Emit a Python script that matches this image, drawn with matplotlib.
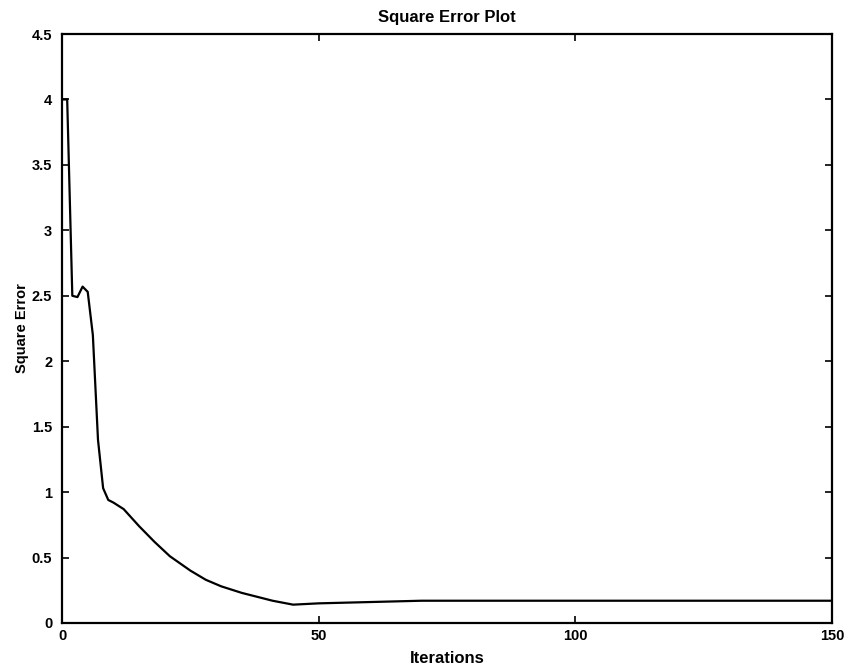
import matplotlib
matplotlib.use("Agg")
import matplotlib.pyplot as plt

# 反復回数と二乗誤差
iterations = [0, 1, 2, 3, 4, 5, 6, 7, 8, 9, 10, 12, 15, 18, 21, 25, 28, 31,
              35, 38, 41, 45, 50, 60, 70, 100, 150]
sq_error = [4.0, 4.0, 2.50, 2.49, 2.57, 2.53, 2.20, 1.40, 1.03, 0.94, 0.92,
            0.87, 0.74, 0.62, 0.51, 0.40, 0.33, 0.28, 0.23, 0.20, 0.17, 0.14,
            0.15, 0.16, 0.17, 0.17, 0.17]

x_ticks = [0, 50, 100, 150]
y_ticks = [0, 0.5, 1, 1.5, 2, 2.5, 3, 3.5, 4, 4.5]
y_tick_labels = ["0", "0.5", "1", "1.5", "2", "2.5", "3", "3.5", "4", "4.5"]

plt.rcParams['font.family'] = ['Liberation Sans', 'DejaVu Sans']
plt.rcParams['font.weight'] = 'bold'

fig = plt.figure(figsize=(8.5, 6.67), dpi=100)
ax = fig.add_axes([0.073, 0.066, 0.906, 0.883])

ax.plot(iterations, sq_error, color='black', linewidth=1.6)

ax.set_xlim(0, 150)
ax.set_ylim(0, 4.5)
ax.set_xticks(x_ticks)
ax.set_yticks(y_ticks)
ax.set_yticklabels(y_tick_labels)
ax.tick_params(direction='in', top=True, right=True, length=5, width=1.2,
               labelsize=10.5)
ax.tick_params(axis='y', pad=7)
ax.tick_params(axis='x', pad=4)
for s in ax.spines.values():
    s.set_linewidth(1.6)

ax.set_title('Square Error Plot', fontsize=12, fontweight='bold', pad=9)
ax.set_xlabel('Iterations', fontsize=12, fontweight='bold', labelpad=6)
ax.set_ylabel('Square Error', fontsize=10.5, fontweight='bold', labelpad=2)

fig.savefig('out.png', dpi=100)
